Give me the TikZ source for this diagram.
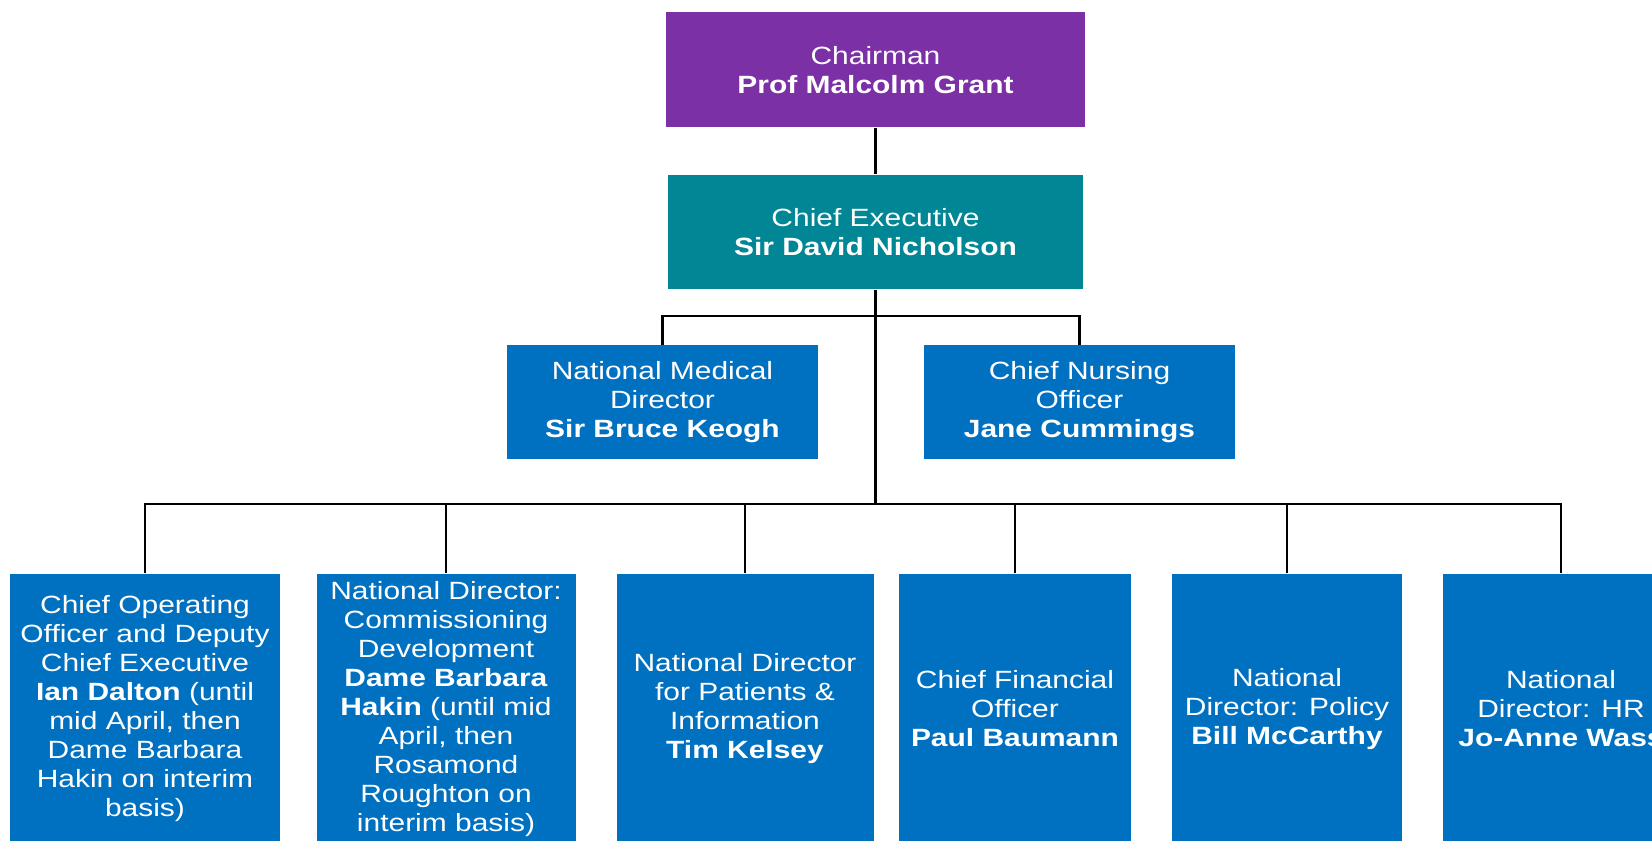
\documentclass[tikz,border=0pt]{standalone}
\usepackage{fontspec}
\setmainfont{Liberation Sans}[FakeStretch=1.2]
\definecolor{chairpurple}{RGB}{124,48,166}
\definecolor{execteal}{RGB}{0,134,148}
\definecolor{postblue}{RGB}{0,112,192}
\begin{document}
\begin{tikzpicture}[
  box/.style={text=white, align=center, inner sep=0pt, font=\fontsize{7.1}{8.25}\selectfont},
  chair/.style={box, fill=chairpurple, minimum width=4.19cm, minimum height=1.15cm},
  exec/.style={box, fill=execteal, minimum width=4.15cm, minimum height=1.14cm},
  adviser/.style={box, fill=postblue, minimum width=3.11cm, minimum height=1.14cm},
  director/.style={box, fill=postblue, minimum height=2.70cm},
  link/.style={black, line width=0.6pt}]
\useasboundingbox (0,0) rectangle (16.52,8.40);
\clip (0,0) rectangle (16.52,8.40);
% top of the tree
\node[chair] (chairman) at (8.755,7.70) {Chairman\\\textbf{Prof Malcolm Grant}};
\node[exec] (chiefexec) at (8.755,6.08) {Chief Executive\\\textbf{Sir David Nicholson}};
% second row
\node[adviser] (medical) at (6.625,4.375) {National Medical\\Director\\\textbf{Sir Bruce Keogh}};
\node[adviser] (nursing) at (10.795,4.375) {Chief Nursing\\Officer\\\textbf{Jane Cummings}};
% bottom row of directors
\node[director, minimum width=2.70cm] (coo) at (1.45,1.31)
 {Chief Operating\\Officer and Deputy\\Chief Executive\\\textbf{Ian Dalton} (until\\mid April, then\\Dame Barbara\\Hakin on interim\\basis)};
\node[director, minimum width=2.59cm] (commiss) at (4.46,1.31)
 {National Director:\\Commissioning\\Development\\\textbf{Dame Barbara}\\\textbf{Hakin} (until mid\\April, then\\Rosamond\\Roughton on\\interim basis)};
\node[director, minimum width=2.57cm] (patients) at (7.45,1.31)
 {National Director\\for Patients \&\\Information\\\textbf{Tim Kelsey}};
\node[director, minimum width=2.32cm] (finance) at (10.15,1.31)
 {Chief Financial\\Officer\\\textbf{Paul Baumann}};
\node[director, minimum width=2.30cm] (policy) at (12.87,1.31)
 {National\\Director: Policy\\\textbf{Bill McCarthy}};
\node[director, minimum width=2.36cm] (hr) at (15.61,1.31)
 {National\\Director: HR\\\textbf{Jo-Anne Wass}};
% bars
\coordinate (midbar) at (8.755,5.24);
\coordinate (lowbar) at (8.755,3.36);
% connectors
\draw[link] (chairman) -- (chiefexec);
\draw[link] (chiefexec.south) -- (lowbar);
\draw[link] (medical.north) |- (midbar) -| (nursing.north);
\draw[link] (coo.north) |- (lowbar) -| (hr.north);
\foreach \n in {commiss,patients,finance,policy}
  \draw[link] (\n.north) -- (\n.north |- lowbar);
\end{tikzpicture}
\end{document}
